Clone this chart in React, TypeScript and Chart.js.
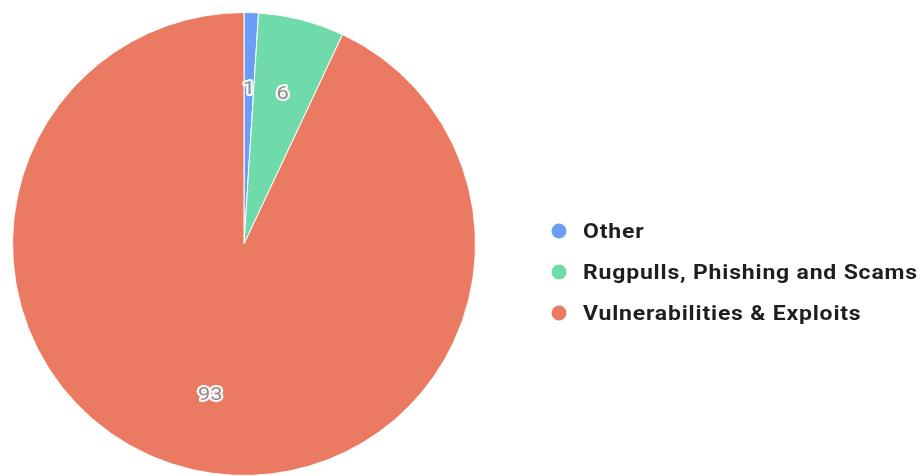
import React, { useEffect, useRef } from "react";
import { Chart, registerables } from "chart.js";

Chart.register(...registerables);

const categories = ["Other", "Rugpulls, Phishing and Scams", "Vulnerabilities & Exploits"];
const values = [1, 6, 93];
const colors = ["#6b9cf6", "#6fdaaa", "#ea7b62"];

const sliceLabels = {
  id: "sliceLabels",
  afterDatasetsDraw(chart: any) {
    const ctx = chart.ctx;
    const meta = chart.getDatasetMeta(0);
    const data = chart.data.datasets[0].data as number[];
    ctx.save();
    ctx.font = "19px Roboto, 'Liberation Sans', Arial, sans-serif";
    ctx.textAlign = "center";
    ctx.textBaseline = "middle";
    ctx.lineJoin = "round";
    meta.data.forEach((arc: any, i: number) => {
      const p = arc.getProps(["x", "y", "startAngle", "endAngle", "outerRadius"], true);
      const mid = (p.startAngle + p.endAngle) / 2;
      const r = p.outerRadius * 0.67;
      const x = p.x + Math.cos(mid) * r;
      const y = p.y + Math.sin(mid) * r;
      const t = String(data[i]);
      ctx.save();
      ctx.translate(x, y);
      ctx.scale(1.15, 1);
      ctx.strokeStyle = "rgba(255,255,255,0.95)";
      ctx.lineWidth = 4;
      ctx.strokeText(t, 0, 0);
      ctx.fillStyle = "#8c8c8c";
      ctx.fillText(t, 0, 0);
      ctx.restore();
    });
    ctx.restore();
  },
};

const sideLegend = {
  id: "sideLegend",
  afterDraw(chart: any) {
    const ctx = chart.ctx;
    const labels = chart.data.labels as string[];
    const bg = chart.data.datasets[0].backgroundColor as string[];
    const cx = 559;
    const top = 231;
    const step = 41;
    ctx.save();
    labels.forEach((lab, i) => {
      const cy = top + i * step;
      ctx.beginPath();
      ctx.arc(cx, cy, 7.5, 0, Math.PI * 2);
      ctx.fillStyle = bg[i];
      ctx.fill();
      ctx.save();
      ctx.translate(583, cy + 7);
      ctx.scale(1.15, 1);
      ctx.font = "bold 20px Roboto, 'Liberation Sans', Arial, sans-serif";
      (ctx as any).letterSpacing = "0.7px";
      ctx.textAlign = "left";
      ctx.textBaseline = "alphabetic";
      ctx.fillStyle = "#1e1e1e";
      ctx.fillText(lab, 0, 0);
      ctx.restore();
    });
    ctx.restore();
  },
};

export default function App() {
  const ref = useRef<HTMLCanvasElement | null>(null);
  useEffect(() => {
    if (!ref.current) return;
    const chart = new Chart(ref.current, {
      type: "pie",
      data: {
        labels: categories,
        datasets: [
          {
            data: values,
            backgroundColor: colors,
            borderColor: "#ffffff",
            borderWidth: 1,
          },
        ],
      },
      options: {
        animation: false,
        responsive: true,
        maintainAspectRatio: false,
        layout: { padding: { left: 12, top: 12, bottom: 0, right: 448 } },
        plugins: {
          legend: { display: false },
          tooltip: { enabled: false },
        },
      },
      plugins: [sliceLabels, sideLegend],
    });
    return () => chart.destroy();
  }, []);
  return (
    <div style={{ position: "fixed", left: 0, top: 0, width: 924, height: 476, overflow: "hidden", background: "#ffffff" }}>
      <canvas ref={ref} />
    </div>
  );
}
